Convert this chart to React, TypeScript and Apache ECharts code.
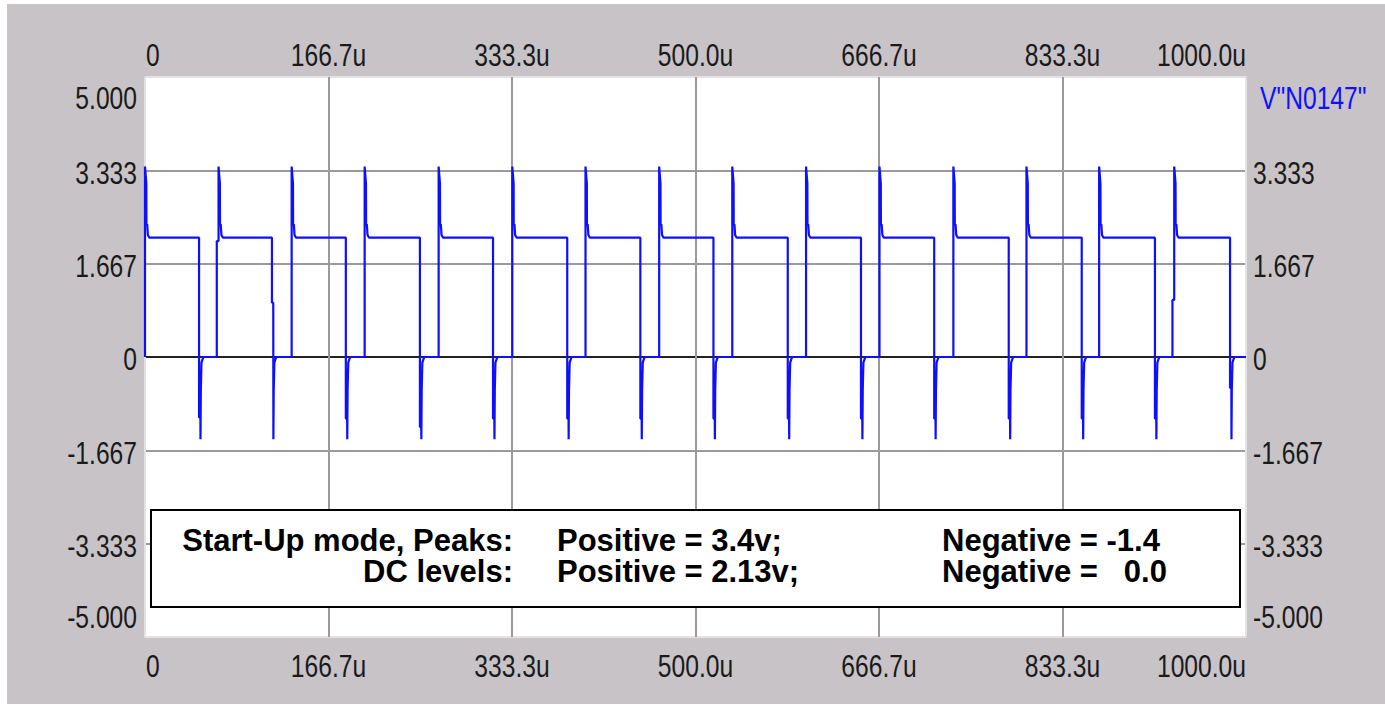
import React, { useEffect, useRef } from 'react';
import * as echarts from 'echarts';

// Tick labels
const xTickLabels = ['0', '166.7u', '333.3u', '500.0u', '666.7u', '833.3u', '1000.0u'];
const yTickLabelsLeft = ['-5.000', '-3.333', '-1.667', '0', '1.667', '3.333', '5.000'];
const yTickLabelsRight = ['-5.000', '-3.333', '-1.667', '0', '1.667', '3.333', 'V"N0147"'];
const traceName = 'V"N0147"';

// Waveform (time in us, volts)
const riseTimes = [0, 66.8, 133.2, 199.5, 266.7, 333.6, 400.1, 467.0, 533.4, 600.4, 667.1, 734.2, 800.6, 866.6, 934.8];
const fallTimes = [49.1, 115.3, 182.4, 249.7, 316.1, 383.5, 449.9, 516.3, 583.8, 650.3, 716.8, 784.5, 850.8, 917.3, 985.5];
const preStepLevels = [0, 2.07, 0, 0, 0, 0, 0, 0, 0, 0, 0, 0, 0, 0, 1.02];
const fallStepLevels = [-1.08, 0.97, -1.1, -1.25, -1.1, -1.1, -1.1, -1.1, -1.1, -1.1, -1.1, -1.1, -1.1, -1.1, -0.55];
const riseOffsets = [0, 0.2, 1.2, 1.3, 2.0, 2.6, 4.0];
const riseValues = [3.4, 3.35, 3.1, 2.37, 2.37, 2.18, 2.13];
const dcHigh = 2.13;
const fallOffsets = [1.3, 1.6, 2.2, 3.0, 4.0];
const fallValues = [-1.47, -0.6, -0.1, -0.05, 0];
const endTime = 1000;

// Annotation texts (columns, two rows each)
const noteCol1 = ['Start-Up mode, Peaks:', 'DC levels:'];
const noteCol2 = ['Positive = 3.4v;', 'Positive = 2.13v;'];
const noteCol3 = ['Negative = -1.4', 'Negative =   0.0'];

function buildTrace(): number[][] {
  const d: number[][] = [[0, 0]];
  for (let i = 0; i < riseTimes.length; i++) {
    const r = riseTimes[i];
    const pre = preStepLevels[i];
    if (pre) {
      d.push([r - 1.6, 0], [r - 1.6, pre], [r, pre]);
    } else {
      d.push([r, 0]);
    }
    for (let k = 0; k < riseOffsets.length; k++) d.push([r + riseOffsets[k], riseValues[k]]);
    const f = fallTimes[i];
    const L = fallStepLevels[i];
    d.push([f, dcHigh], [f, L], [f + 1.2, L]);
    for (let k = 0; k < fallOffsets.length; k++) d.push([f + fallOffsets[k], fallValues[k]]);
  }
  d.push([endTime, 0]);
  return d;
}

const AXIS_FONT = "'Liberation Sans', Arial, sans-serif";
const BOX_FONT = "'Liberation Sans', Arial, sans-serif";
const AXIS_SIZE = 32;
const AXIS_SCALE_X = 0.77;
const XI = 1000 / 6;
const YI = 10 / 6;

export default function App() {
  const ref = useRef<HTMLDivElement>(null);
  useEffect(() => {
    if (!ref.current) return;
    const chart = echarts.init(ref.current, null, { renderer: 'svg' });
    const xAxisBase = {
      type: 'value',
      min: 0,
      max: 1000,
      interval: XI,
      axisLine: { show: false },
      axisTick: { show: false },
      axisLabel: { show: false },
    };
    const yAxisBase = {
      type: 'value',
      min: -5,
      max: 5,
      interval: YI,
      axisLine: { show: false },
      axisTick: { show: false },
      axisLabel: { show: false },
    };
    const boxText = (id: string, lines: string[], x: number, align: string) => ({
      type: 'text',
      id,
      z: 101,
      x,
      y: 556,
      style: {
        text: lines.join('\n'),
        fill: '#000',
        fontSize: 31,
        lineHeight: 31.5,
        fontWeight: 'bold',
        fontFamily: BOX_FONT,
        align,
        verticalAlign: 'middle',
      },
    });
    chart.setOption({
      animation: false,
      backgroundColor: '#ffffff',
      grid: {
        left: 145,
        right: 139,
        top: 77,
        bottom: 68,
        show: true,
        backgroundColor: '#ffffff',
        borderWidth: 0,
        outerBoundsMode: 'none',
      },
      xAxis: [
        {
          ...xAxisBase,
          position: 'bottom',
          splitLine: {
            show: true,
            lineStyle: { color: ['#e2e2e2', '#9a9a9a', '#9a9a9a', '#9a9a9a', '#9a9a9a', '#9a9a9a', '#e2e2e2'], width: 2 },
          },
        },
        { ...xAxisBase, position: 'top', splitLine: { show: false } },
      ],
      yAxis: [
        {
          ...yAxisBase,
          position: 'left',
          splitLine: {
            show: true,
            lineStyle: { color: ['#e2e2e2', '#9a9a9a', '#9a9a9a', '#222222', '#9a9a9a', '#9a9a9a', '#e2e2e2'], width: 2 },
          },
        },
        { ...yAxisBase, position: 'right', splitLine: { show: false } },
      ],
      series: [
        {
          name: traceName,
          type: 'line',
          xAxisIndex: 0,
          yAxisIndex: 0,
          data: buildTrace(),
          showSymbol: false,
          symbol: 'none',
          lineStyle: { color: '#0f0fff', width: 2.2 },
          itemStyle: { color: '#0f0fff' },
          z: 5,
        },
      ],
      graphic: [
        { type: 'rect', id: 'bg', z: -10, shape: { x: 7, y: 4, width: 1378, height: 700 }, style: { fill: '#c7c3c7' }, silent: true },
        { type: 'rect', id: 'box', z: 100, shape: { x: 151, y: 510, width: 1089, height: 97 }, style: { fill: '#ffffff', stroke: '#000000', lineWidth: 2 } },
        boxText('c1', noteCol1, 513, 'right'),
        boxText('c2', noteCol2, 557, 'left'),
        boxText('c3', noteCol3, 942, 'left'),
      ],
    });

    // Axis tick labels, placed through the axes' own scales
    const labels: any[] = [];
    const axisText = (id: string, text: string, x: number, y: number, align: string, color = '#1a1a1a') => ({
      type: 'text',
      id,
      z: 20,
      x,
      y,
      scaleX: AXIS_SCALE_X,
      silent: true,
      style: { text, fill: color, fontSize: AXIS_SIZE, fontFamily: AXIS_FONT, align, verticalAlign: 'middle' },
    });
    const n = xTickLabels.length;
    for (let i = 0; i < n; i++) {
      const px = chart.convertToPixel({ xAxisIndex: 0 }, i * XI) as number;
      const align = i === 0 ? 'left' : i === n - 1 ? 'right' : 'center';
      const ax = i === 0 ? px + 1 : px;
      labels.push(axisText('xb' + i, xTickLabels[i], ax, 666, align));
      labels.push(axisText('xt' + i, xTickLabels[i], ax, 55, align));
    }
    const m = yTickLabelsLeft.length;
    for (let i = 0; i < m; i++) {
      let py = chart.convertToPixel({ yAxisIndex: 0 }, -5 + i * YI) as number;
      if (i === 0) py -= 20;
      else if (i === m - 1) py += 21;
      else py += 2;
      labels.push(axisText('yl' + i, yTickLabelsLeft[i], 137, py, 'right'));
      const t = yTickLabelsRight[i];
      const isName = t === traceName;
      labels.push(axisText('yr' + i, t, isName ? 1260 : 1253, py, 'left', isName ? '#1010ff' : '#1a1a1a'));
    }
    chart.setOption({ graphic: labels });

    return () => chart.dispose();
  }, []);
  return (
    <div
      ref={ref}
      style={{ position: 'absolute', left: 0, top: 0, width: 1385, height: 705 }}
    />
  );
}
